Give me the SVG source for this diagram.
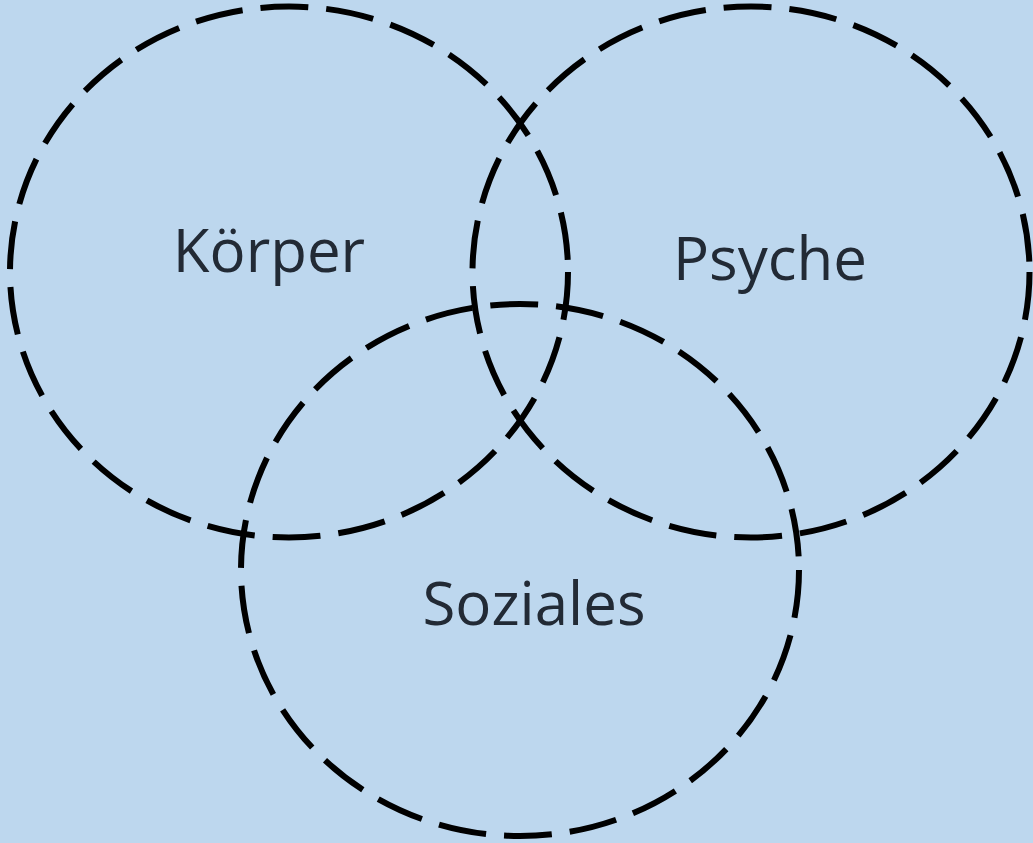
<svg xmlns="http://www.w3.org/2000/svg" width="1033" height="843" viewBox="0 0 1033 843">
<style>
.c{fill:none;stroke:#000;stroke-width:6;stroke-dasharray:48 18}
.t{font-family:"Open Sans","Noto Sans",sans-serif;font-size:60px;fill:#222A35;text-anchor:middle}
</style>
<rect width="1033" height="843" fill="#BDD7EE"/>
<g id="koerper"><ellipse class="c" cx="289" cy="272" rx="279" ry="265.5"/><text class="t" x="269" y="272">Körper</text></g>
<g id="psyche"><ellipse class="c" cx="751" cy="272" rx="278.5" ry="265.5"/><text class="t" x="770" y="280">Psyche</text></g>
<g id="soziales"><ellipse class="c" cx="520" cy="570" rx="279" ry="266"/><text class="t" x="534" y="625">Soziales</text></g>
<g id="connectors"/>
</svg>
